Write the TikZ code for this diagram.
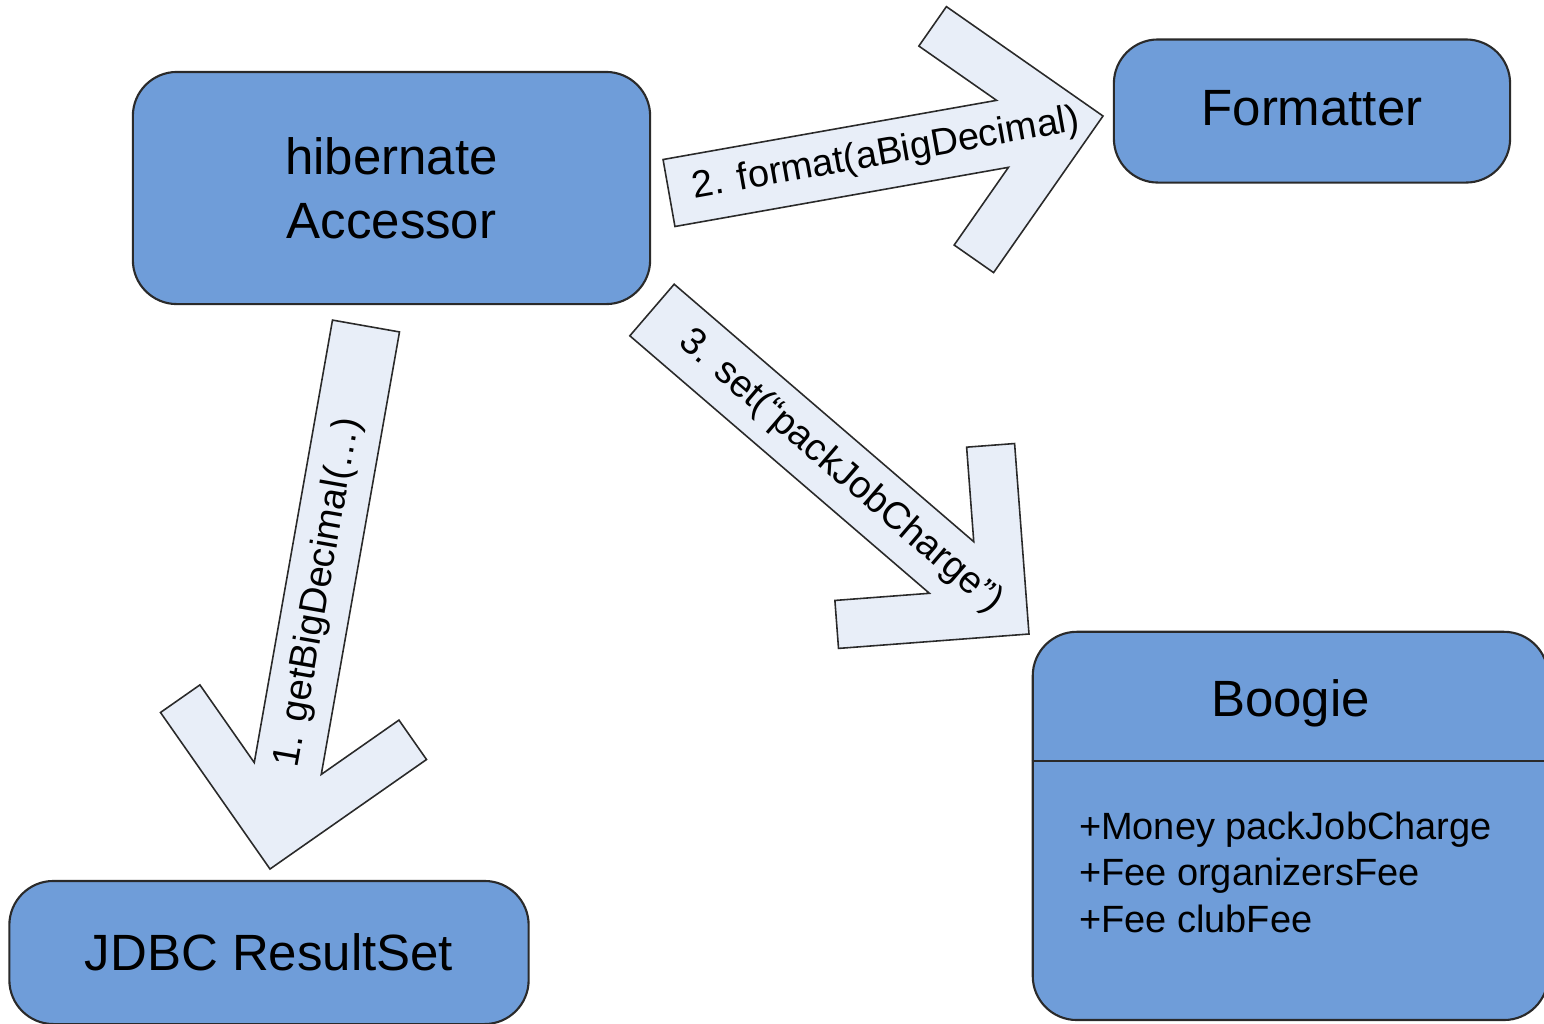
\documentclass[tikz,border=0pt]{standalone}
\usepackage{fontspec}
\setmainfont{Liberation Sans}
\usetikzlibrary{calc}

\definecolor{boxblue}{HTML}{6F9DD9}
\definecolor{callblue}{HTML}{E8EEF8}
\definecolor{edgegray}{HTML}{2A2A2A}

% hollow chevron arrow from #1 (tail) to #2 (tip)
\newcommand{\callarrow}[2]{%
  \draw[callarrow]
    ($(#1)!0.34cm!-90:(#2)$) --
    ($(#1)!0.34cm!90:(#2)$) --
    ($(#2)!1.02cm!(#1)!0.34cm!-90:(#1)$) --
    ($(#2)!1.69cm!(#1)!1.01cm!-90:(#1)$) --
    ($(#2)!1.35cm!(#1)!1.35cm!-90:(#1)$) --
    (#2) --
    ($(#2)!1.35cm!(#1)!1.35cm!90:(#1)$) --
    ($(#2)!1.69cm!(#1)!1.01cm!90:(#1)$) --
    ($(#2)!1.02cm!(#1)!0.34cm!90:(#1)$) -- cycle;}

\begin{document}
\begin{tikzpicture}[x=0.01cm, y=-0.01cm]
  \tikzset{
    classbox/.style={
      draw=edgegray,
      line width=0.6pt,
      fill=boxblue,
      rounded corners=0.44cm,
      inner sep=0pt,
      align=center,
      font=\fontsize{14.5pt}{18.3pt}\selectfont,
    },
    callarrow/.style={draw=edgegray, line width=0.45pt, fill=callblue},
    calltext/.style={inner sep=0pt, font=\fontsize{10.8pt}{13.2pt}\selectfont},
  }
  \useasboundingbox (0,0) rectangle (1544,1023);

  \node[classbox, minimum width=5.17cm, minimum height=2.32cm] (acc) at (391.5,188) {hibernate\\Accessor};
  \node[classbox, minimum width=3.96cm, minimum height=1.43cm, text depth=0.07cm] (fmt) at (1312,111) {Formatter};
  \node[classbox, minimum width=5.19cm, minimum height=1.43cm] (jdbc) at (269,952.5) {JDBC ResultSet};
  \node[classbox, minimum width=5.15cm, minimum height=3.88cm] (boogie) at (1290.4,825.9) {};
  \draw[draw=edgegray, line width=0.6pt]
    ($(boogie.north west)+(0,130)$) -- ($(boogie.north east)+(0,130)$);
  \node[anchor=base, font=\fontsize{14.5pt}{18.3pt}\selectfont] (boogiename) at (1290.4,716.7) {Boogie};
  \node[calltext, anchor=base west, align=left] (boogieattr) at (1078.3,932)
    {+Money packJobCharge\\+Fee organizersFee\\+Fee clubFee};

  % tails and tips of the calls
  \coordinate (c1s) at (366,326);
  \coordinate (c1t) at (270,869);
  \coordinate (c2s) at (669,193);
  \coordinate (c2t) at (1103,116);
  \coordinate (c3s) at (652,310);
  \coordinate (c3t) at (1029,634);

  \callarrow{c1s}{c1t}
  \callarrow{c2s}{c2t}
  \callarrow{c3s}{c3t}

  \path (c1s) -- (c1t) node[calltext, sloped, pos=0.49] (l1) {1. getBigDecimal(…)};
  \path (c2s) -- (c2t) node[calltext, sloped, midway] (l2) {2. format(aBigDecimal)};
  \path (c3s) -- (c3t) node[calltext, sloped, midway] (l3) {3. set(“packJobCharge”)};
\end{tikzpicture}
\end{document}
